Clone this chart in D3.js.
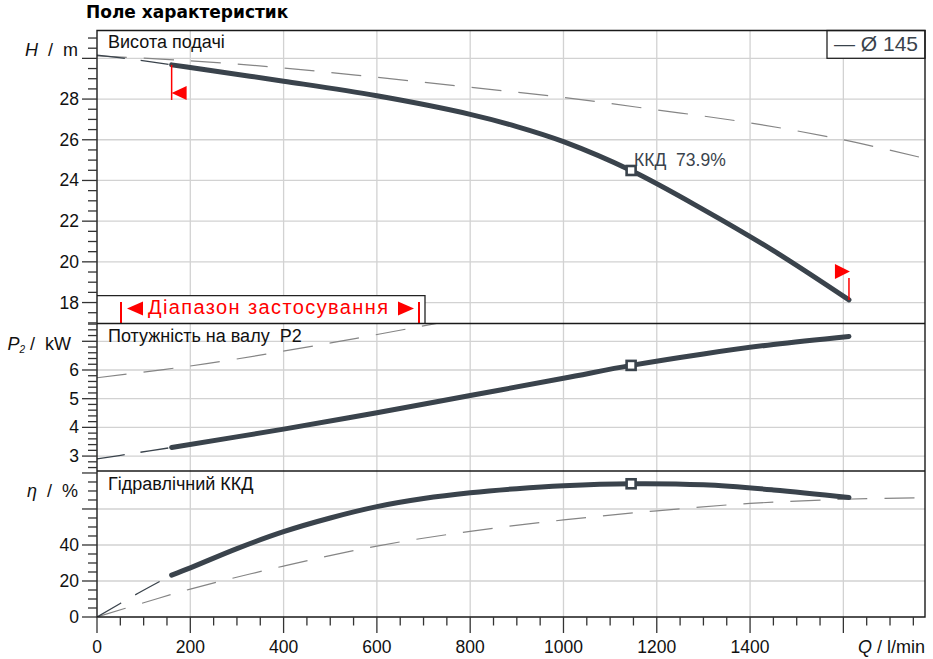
<!DOCTYPE html>
<html><head><meta charset="utf-8">
<script src="https://cdn.jsdelivr.net/npm/d3@7"></script>
<style>
body{margin:0;background:#fff}
svg{display:block}
text{font-family:"Liberation Sans",Arial,sans-serif}
</style>
</head><body>
<svg id="c" width="933" height="659"></svg>
<script>
// ---------------- data ----------------
const headQ = [160,200,400,600,800,900,1000,1145,1300,1450,1612];
const headH = [29.68,29.55,28.88,28.16,27.25,26.65,25.91,24.49,22.57,20.55,18.13];
const headExtQ = [0,80,160];
const headExtH = [30.16,29.94,29.68];
const headRefQ = [0,200,400,600,800,1000,1200,1400,1600,1775];
const headRefH = [30.12,29.88,29.53,29.07,28.58,28.08,27.47,26.83,26.0,25.08];

const powerQ = [160,400,600,800,1000,1145,1300,1450,1612];
const powerP = [3.30,3.94,4.51,5.11,5.71,6.16,6.56,6.89,7.17];
const powerExtQ = [0,80,160];
const powerExtP = [2.9,3.1,3.30];
const powerRefQ = [0,235,510,720,800];
const powerRefP = [5.73,6.22,6.97,7.60,7.85];

const effQ = [160,200,300,400,500,600,700,800,900,1000,1145,1300,1450,1612];
const effE = [23.3,27.3,38,47.4,55,61.3,65.8,69,71.3,72.9,74.0,73.4,70.6,66.4];
const effExtQ = [0,88,160];
const effExtE = [0,13.2,23.3];
const effRefQ = [0,100,200,400,600,800,1000,1200,1400,1600,1775];
const effRefE = [0,7.9,15.5,28.3,39.4,47.6,53.9,59,63.1,65.4,66.3];

const bep = {q:1145, h:24.49, p:6.16, e:74.0};
const bepLabel = "ККД  73.9%";
const rangeQ = [160, 1612];
const rangeH = [29.68, 18.13];

const qGrid = [200,400,600,800,1000,1200,1400,1600];
const qLabels = [0,200,400,600,800,1000,1200,1400];
const hGrid = [18,20,22,24,26,28,30];
const hLabels = [18,20,22,24,26,28];
const pGrid = [3,4,5,6,7];
const pLabels = [3,4,5,6];
const eGrid = [20,40,60];
const eMajor = [0,20,40,60,80];
const eLabels = [0,20,40];

const title = "Поле характеристик";
const panelTitles = ["Висота подачі","Потужність на валу  P2","Гідравлічний ККД"];
const rangeText = "Діапазон застосування";
const legendText = "— Ø 145";

// ---------------- layout ----------------
const L = 97, R = 925;
const T1 = 30.5, B1 = 323.5, B2 = 471, B3 = 617;
const dark = "#3a434c", gridC = "#d2d2d2", refC = "#858585", red = "#ff0000";

const x = d3.scaleLinear().domain([0,1775]).range([L,R]);
const yH = d3.scaleLinear().domain([16.97,31.37]).range([B1,T1]);
const yP = d3.scaleLinear().domain([2.48,7.62]).range([B2,B1]);
const yE = d3.scaleLinear().domain([0,81.1]).range([B3,B2]);

const svg = d3.select("#c");
const defs = svg.append("defs");
[["c1",T1,B1],["c2",B1,B2],["c3",B2,B3]].forEach(([id,a,b])=>{
  defs.append("clipPath").attr("id",id).append("rect").attr("x",L).attr("y",a).attr("width",R-L).attr("height",b-a);
});

// grid
const g = svg.append("g").attr("stroke",gridC).attr("stroke-width",1.3);
qGrid.forEach(q=>g.append("line").attr("x1",x(q)).attr("x2",x(q)).attr("y1",T1).attr("y2",B3));
hGrid.forEach(v=>g.append("line").attr("x1",L).attr("x2",R).attr("y1",yH(v)).attr("y2",yH(v)));
pGrid.forEach(v=>g.append("line").attr("x1",L).attr("x2",R).attr("y1",yP(v)).attr("y2",yP(v)));
eGrid.forEach(v=>g.append("line").attr("x1",L).attr("x2",R).attr("y1",yE(v)).attr("y2",yE(v)));

function curve(qs, vs, ys, clip, opts){
  const line = d3.line().x(d=>x(d[0])).y(d=>ys(d[1])).curve(d3.curveCatmullRom.alpha(0.5));
  const p = svg.append("path").attr("d", line(qs.map((q,i)=>[q,vs[i]])))
    .attr("fill","none").attr("clip-path",`url(#${clip})`)
    .attr("stroke",opts.c).attr("stroke-width",opts.w);
  if(opts.dash) p.attr("stroke-dasharray",opts.dash);
  if(opts.cap) p.attr("stroke-linecap",opts.cap);
  return p;
}
const refStyle = {c:refC, w:1.2, dash:"30,17"};
const extStyle = {c:dark, w:1.3, dash:"28,16"};
const mainStyle = {c:dark, w:5, cap:"round"};

curve(headRefQ, headRefH, yH, "c1", refStyle);
curve(powerRefQ, powerRefP, yP, "c2", refStyle);
curve(effRefQ, effRefE, yE, "c3", refStyle);
curve(headExtQ, headExtH, yH, "c1", extStyle);
curve(powerExtQ, powerExtP, yP, "c2", extStyle);
curve(effExtQ, effExtE, yE, "c3", extStyle);

// application range box
const boxTop = 295.7, boxRight = 425;
svg.append("rect").attr("x",L).attr("y",boxTop).attr("width",boxRight-L).attr("height",B1-boxTop).attr("fill","#fff");
svg.append("path").attr("d",`M${L},${boxTop}H${boxRight}V${B1}`).attr("fill","none").attr("stroke","#222").attr("stroke-width",1.3);
svg.append("line").attr("x1",121).attr("x2",121).attr("y1",302).attr("y2",B1).attr("stroke",red).attr("stroke-width",2);
svg.append("line").attr("x1",419).attr("x2",419).attr("y1",302).attr("y2",B1).attr("stroke",red).attr("stroke-width",2);
svg.append("path").attr("d","M127,308.5L143,301.5V315.5Z").attr("fill",red);
svg.append("path").attr("d","M414,308.5L398,301.5V315.5Z").attr("fill",red);
svg.append("text").attr("x",148).attr("y",314).attr("font-size",20).attr("fill",red)
  .attr("textLength",240).attr("lengthAdjust","spacing").text(rangeText);

curve(headQ, headH, yH, "c1", mainStyle);
curve(powerQ, powerP, yP, "c2", mainStyle);
curve(effQ, effE, yE, "c3", mainStyle);

// red range markers
const xa = x(rangeQ[0]), xb = x(rangeQ[1]);
svg.append("line").attr("x1",xa).attr("x2",xa).attr("y1",yH(rangeH[0])).attr("y2",100).attr("stroke",red).attr("stroke-width",1.5);
svg.append("path").attr("d",`M${xa},93L${xa+15},86V100Z`).attr("fill",red);
svg.append("line").attr("x1",xb).attr("x2",xb).attr("y1",278).attr("y2",yH(rangeH[1])).attr("stroke",red).attr("stroke-width",1.5);
svg.append("path").attr("d",`M${xb+1},271.5L${xb-14},264V279Z`).attr("fill",red);

// BEP markers
[[bep.h,yH],[bep.p,yP],[bep.e,yE]].forEach(([v,ys])=>{
  svg.append("rect").attr("x",x(bep.q)-4.5).attr("y",ys(v)-4.5).attr("width",9).attr("height",9)
    .attr("fill","#fff").attr("stroke",dark).attr("stroke-width",2.6);
});
svg.append("text").attr("x",x(bep.q)+3).attr("y",165.5).attr("font-size",17.5).attr("fill",dark)
  .attr("xml:space","preserve").style("white-space","pre").text(bepLabel);

// legend
svg.append("rect").attr("x",827).attr("y",T1).attr("width",R-827).attr("height",58.3-T1)
  .attr("fill","#fff").attr("stroke","#222").attr("stroke-width",1.3);
svg.append("text").attr("x",918).attr("y",50.5).attr("text-anchor","end").attr("font-size",21).attr("fill",dark).text(legendText);

// borders and axes
const bc = "#1a1a1a";
const bg = svg.append("g").attr("stroke",bc).attr("stroke-width",1.4).attr("fill","none");
bg.append("path").attr("d",`M${L},${T1}H${R}V${B3}H${L}Z`);
bg.append("line").attr("x1",L).attr("x2",R).attr("y1",B1).attr("y2",B1);
bg.append("line").attr("x1",L).attr("x2",R).attr("y1",B2).attr("y2",B2);

// y ticks
const tg = svg.append("g").attr("stroke","#333").attr("stroke-width",1.3);
function yTicks(ys, minorStep, majors, lo, hi){
  const n = Math.round((hi-lo)/minorStep);
  for(let i=0;i<=n;i++){
    const v = lo + i*minorStep;
    const major = majors.some(m=>Math.abs(m-v)<1e-6);
    tg.append("line").attr("x1",major?L-15:L-9).attr("x2",L).attr("y1",ys(v)).attr("y2",ys(v));
  }
}
yTicks(yH, 0.5, hGrid, 17, 31);
yTicks(yP, 0.2, pGrid, 2.6, 7.6);
yTicks(yE, 5, eMajor, 0, 80);
// x ticks
for(let q=0;q<=1750;q+=50){
  const major = q%200===0;
  tg.append("line").attr("x1",x(q)).attr("x2",x(q)).attr("y1",B3).attr("y2",B3+(major?16:8.5));
}

// tick labels
const lg = svg.append("g").attr("font-size",17.5).attr("fill","#111");
hLabels.forEach(v=>lg.append("text").attr("x",79).attr("y",yH(v)+6).attr("text-anchor","end").text(v));
pLabels.forEach(v=>lg.append("text").attr("x",79).attr("y",yP(v)+6).attr("text-anchor","end").text(v));
eLabels.forEach(v=>lg.append("text").attr("x",79).attr("y",yE(v)+6).attr("text-anchor","end").text(v));
qLabels.forEach(q=>lg.append("text").attr("x",x(q)).attr("y",653).attr("text-anchor","middle").text(q));

// axis titles
function axTitle(xp, yp, parts, anchor){
  const t = svg.append("text").attr("x",xp).attr("y",yp).attr("font-size",18).attr("fill","#111")
    .attr("text-anchor",anchor||"end").attr("xml:space","preserve").style("white-space","pre");
  parts.forEach(p=>{
    const s = t.append("tspan").text(p.t);
    if(p.i) s.attr("font-style","italic");
    if(p.sub) s.attr("font-size",10).attr("dy",3);
    if(p.up) s.attr("dy",-3);
  });
}
axTitle(78, yH(30)-2.5, [{t:"H",i:1},{t:"  /  m"}]);
axTitle(71, yP(7)+8.5, [{t:"P",i:1},{t:"2",i:1,sub:1},{t:" /  kW",up:1}]);
axTitle(78, yE(70)+6, [{t:"η",i:1},{t:"  /  %"}]);
axTitle(R, 653, [{t:"Q",i:1},{t:" / l/min"}]);

// panel titles
svg.append("text").attr("x",108).attr("y",48.3).attr("font-size",18).attr("fill","#111").text(panelTitles[0]);
svg.append("text").attr("x",108).attr("y",341.7).attr("font-size",18).attr("fill","#111")
  .attr("xml:space","preserve").style("white-space","pre").text(panelTitles[1]);
svg.append("text").attr("x",108).attr("y",490).attr("font-size",18).attr("fill","#111").text(panelTitles[2]);

// main title
svg.append("text").attr("x",86).attr("y",18.3).attr("font-size",17).attr("font-weight","bold").attr("fill","#000")
  .style("font-family","'DejaVu Sans',sans-serif").text(title);
</script>
</body></html>
